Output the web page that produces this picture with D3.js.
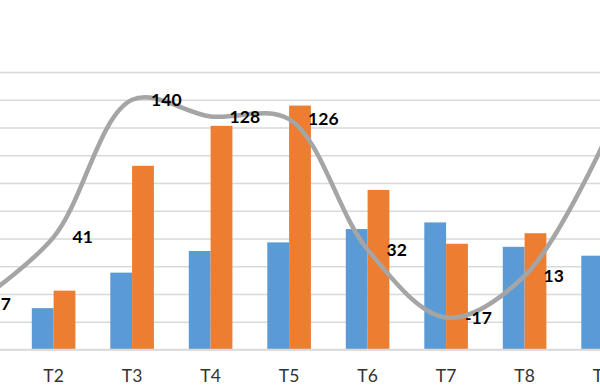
<!DOCTYPE html>
<html>
<head>
<meta charset="utf-8">
<script src="https://cdn.jsdelivr.net/npm/d3@7"></script>
<style>
  html, body { margin: 0; padding: 0; background: #fff; }
  svg { display: block; }
</style>
</head>
<body>
<svg id="chart" width="600" height="385"></svg>
<script>
// ---- data ----
const categories = ["T1", "T2", "T3", "T4", "T5", "T6", "T7", "T8", "T9"];
const seriesA = [150, 149, 277, 355, 386, 434, 458, 370, 338];   // blue bars
const seriesB = [140, 212, 662, 806, 879, 575, 381, 419, 703];   // orange bars
const growth  = [-7, 41, 140, 128, 126, 32, -17, 13, 108];       // line (secondary axis, %)
const primaryTicks = [0, 100, 200, 300, 400, 500, 600, 700, 800, 900, 1000];

// ---- layout ----
const svg = d3.select("#chart");
const step = 78.5;
const firstCenter = -24.9;
const x0 = d3.scaleBand().domain(categories)
  .range([firstCenter - step / 2, firstCenter - step / 2 + step * categories.length])
  .paddingInner(0).paddingOuter(0);
const groupW = 43.6;
const x1 = d3.scaleBand().domain(["a", "b"]).range([0, groupW]).padding(0);
const yTop = 72, yBase = 349.5;
const y = d3.scaleLinear().domain([0, 1000]).range([yBase, yTop]);
const y2 = d3.scaleLinear().domain([-40, 160]).range([yBase, yTop]);
const cx = c => x0(c) + x0.bandwidth() / 2;

// gridlines
const yAxis = d3.axisLeft(y).tickValues(primaryTicks).tickSize(-700).tickFormat("");
const gGrid = svg.append("g").attr("transform", "translate(-50,0)").call(yAxis);
gGrid.select(".domain").remove();
gGrid.selectAll(".tick line").attr("stroke", "#d9d9d9").attr("stroke-width", 1.3);

// bars
const groups = svg.append("g").selectAll("g").data(categories).join("g")
  .attr("transform", c => `translate(${cx(c) - groupW / 2},0)`);
groups.append("rect")
  .attr("x", x1("a")).attr("width", x1.bandwidth())
  .attr("y", (c, i) => y(seriesA[i])).attr("height", (c, i) => yBase - y(seriesA[i]))
  .attr("fill", "#5b9bd5");
groups.append("rect")
  .attr("x", x1("b")).attr("width", x1.bandwidth())
  .attr("y", (c, i) => y(seriesB[i])).attr("height", (c, i) => yBase - y(seriesB[i]))
  .attr("fill", "#ed7d31");

// x axis
const xAxis = d3.axisBottom(x0).tickSize(0).tickPadding(20);
const gX = svg.append("g").attr("transform", `translate(0,${yBase})`).call(xAxis);
gX.select(".domain").attr("stroke", "#d9d9d9").attr("stroke-width", 1.3)
  .attr("d", "M-100,0H700");
gX.selectAll(".tick text")
  .attr("font-family", "Lato, 'Open Sans', sans-serif")
  .attr("font-size", 17.5).attr("fill", "#333");

// line
const line = d3.line()
  .x((d, i) => cx(categories[i]))
  .y(d => y2(d))
  .curve(d3.curveCatmullRom.alpha(0.5));
svg.append("path").datum(growth)
  .attr("d", line).attr("fill", "none")
  .attr("stroke", "#a5a5a5").attr("stroke-width", 4.5)
  .attr("stroke-linecap", "round");

// labels
svg.append("g").selectAll("text").data(growth).join("text")
  .attr("x", (d, i) => cx(categories[i]) + 19)
  .attr("y", d => y2(d))
  .attr("dy", "0.36em")
  .attr("font-family", "Lato, 'Open Sans', sans-serif")
  .attr("font-weight", "bold")
  .attr("font-size", 17.5)
  .attr("fill", "#000")
  .text(d => d);
</script>
</body>
</html>
